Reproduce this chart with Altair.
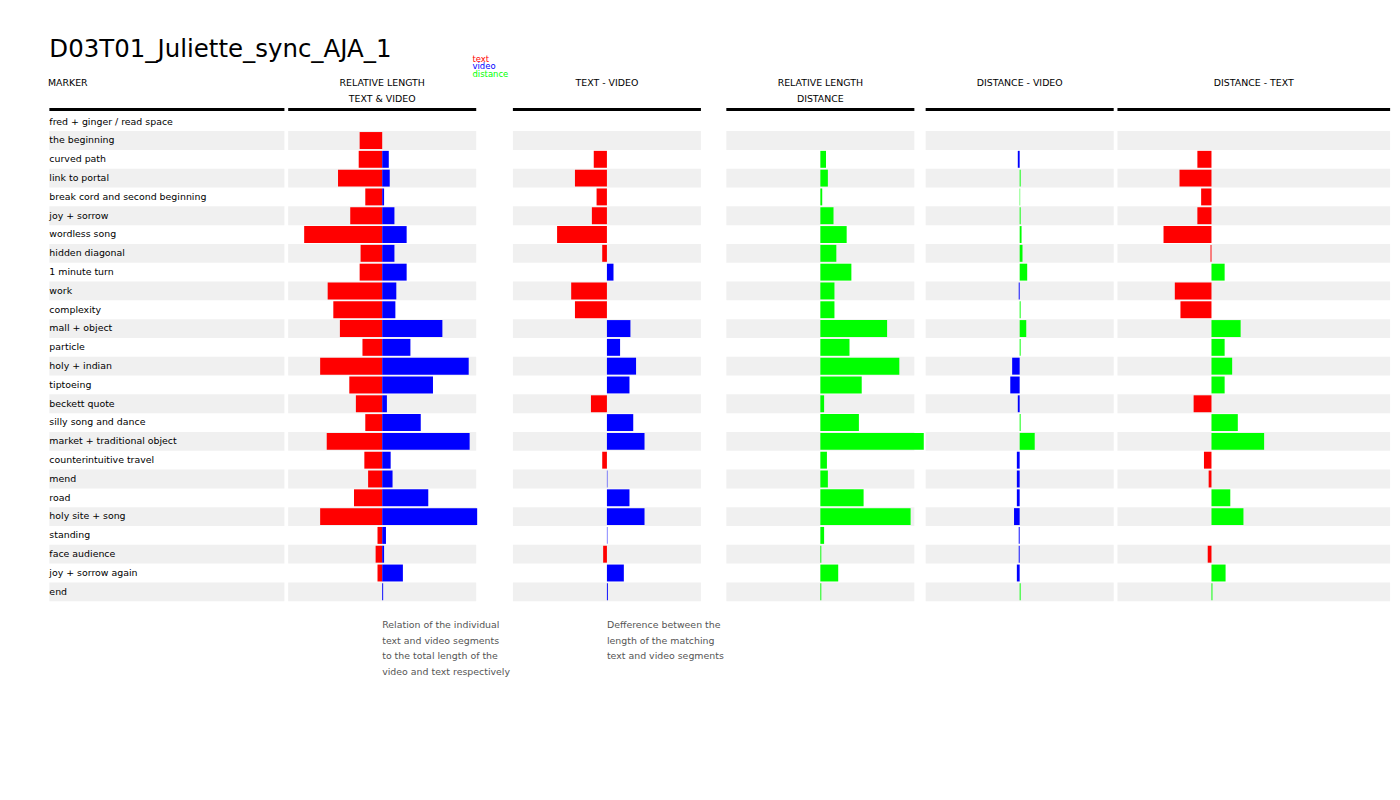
import pandas as pd
import altair as alt

FONT = "DejaVu Sans"
RED, BLUE, GREEN, STRIPE = "#ff0000", "#0000ff", "#00ff00", "#f0f0f0"

markers = [
    "fred + ginger / read space", "the beginning", "curved path", "link to portal",
    "break cord and second beginning", "joy + sorrow", "wordless song", "hidden diagonal",
    "1 minute turn", "work", "complexity", "mall + object", "particle", "holy + indian",
    "tiptoeing", "beckett quote", "silly song and dance", "market + traditional object",
    "counterintuitive travel", "mend", "road", "holy site + song", "standing",
    "face audience", "joy + sorrow again", "end",
]
rel_text = [0, 24, 25, 47, 18, 34, 83, 23, 24, 58, 52, 45, 21, 66, 35, 28, 18, 59, 19, 15, 30, 66, 5, 7, 5, 0]
rel_video = [0, 0, 7, 8, 2, 13, 26, 13, 26, 15, 14, 64, 30, 92, 54, 5, 41, 93, 9, 11, 49, 101, 4, 2, 22, 1]
text_video = [0, 0, -14, -34, -11, -16, -53, -5, 7, -38, -34, 25, 14, 31, 24, -17, 28, 40, -5, 0.5, 24, 40, 0.5, -4, 18, 1]
rel_distance = [0, 0, 6, 8, 2, 14, 28, 17, 33, 15, 15, 71, 31, 84, 44, 4, 41, 110, 7, 8, 46, 96, 4, 1, 19, 1]
dist_video = [0, 0, -2, 1, 0.5, 1, 2, 3, 8, -1, 1, 7, 1, -8, -10, -2, 1, 16, -3, -3, -3, -6, -1, -1, -3, 1]
dist_text = [0, 0, -15, -34, -11, -15, -51, -1, 14, -39, -33, 31, 14, 22, 14, -19, 28, 56, -8, -3, 20, 34, 0, -4, 15, 1]

ROW_H = 20
H = ROW_H * len(markers)


def stripes(width):
    df = pd.DataFrame({"marker": markers[1::2]})
    return alt.Chart(df).mark_rect(color=STRIPE).encode(
        y=alt.Y("marker:N", sort=markers, axis=None,
                scale=alt.Scale(domain=markers, paddingInner=0, paddingOuter=0)),
        x=alt.value(0), x2=alt.value(width),
    )


def top_rule(width):
    return alt.Chart(pd.DataFrame({"a": [0]})).mark_rule(color="black", strokeWidth=3).encode(
        x=alt.value(0), x2=alt.value(width), y=alt.value(-3)
    )


def bars(rows, domain):
    df = pd.DataFrame(rows, columns=["marker", "v", "c"])
    df = df[df["v"] != 0]
    return alt.Chart(df).mark_bar(size=18).encode(
        y=alt.Y("marker:N", sort=markers, axis=None,
                scale=alt.Scale(domain=markers, paddingInner=0, paddingOuter=0)),
        x=alt.X("v:Q", axis=None, scale=alt.Scale(domain=domain)),
        x2=alt.datum(0),
        color=alt.Color("c:N", scale=None),
    )


def panel(title, rows, width=200, domain=(-100, 100), note=None):
    layers = [stripes(width), top_rule(width), bars(rows, list(domain))]
    if note:
        layers.append(
            alt.Chart(pd.DataFrame({"t": [note]})).mark_text(
                align="left", baseline="top", font=FONT, fontSize=10, color="#555555",
                lineHeight=17, lineBreak="\n",
            ).encode(x=alt.value(width / 2), y=alt.value(H + 20), text="t:N")
        )
    return alt.layer(*layers).properties(
        width=width, height=H,
        title=alt.Title(title, font=FONT, fontSize=10, fontWeight="normal",
                        anchor="middle", lineHeight=17, offset=4),
    )


def sign_rows(vals, neg, pos):
    return [(m, v, neg if v < 0 else pos) for m, v in zip(markers, vals)]


label_w = 250
label_panel = alt.layer(
    stripes(label_w),
    top_rule(label_w),
    alt.Chart(pd.DataFrame({"marker": markers})).mark_text(
        align="left", baseline="middle", font=FONT, fontSize=10, color="black"
    ).encode(
        y=alt.Y("marker:N", sort=markers, axis=None,
                scale=alt.Scale(domain=markers, paddingInner=0, paddingOuter=0)),
        x=alt.value(0), text="marker:N",
    ),
).properties(
    width=label_w, height=H,
    title=alt.Title(["MARKER", " "], font=FONT, fontSize=10, fontWeight="normal",
                    anchor="start", lineHeight=17, offset=4),
)

rel_rows = [(m, -t, RED) for m, t in zip(markers, rel_text)] + \
           [(m, v, BLUE) for m, v in zip(markers, rel_video)]

p1 = panel(["RELATIVE LENGTH", "TEXT & VIDEO"], rel_rows,
           note="Relation of the individual\ntext and video segments\nto the total length of the\nvideo and text respectively")
p2 = panel(["TEXT - VIDEO", " "], sign_rows(text_video, RED, BLUE),
           note="Defference between the\nlength of the matching\ntext and video segments")
p3 = panel(["RELATIVE LENGTH", "DISTANCE"], [(m, v, GREEN) for m, v in zip(markers, rel_distance)])
p4 = panel(["DISTANCE - VIDEO", " "], sign_rows(dist_video, BLUE, GREEN))
p5 = panel(["DISTANCE - TEXT", " "], sign_rows(dist_text, RED, GREEN), width=290, domain=(-100, 190))

header_df = pd.DataFrame({"t": ["text", "video", "distance"], "c": [RED, BLUE, GREEN], "i": [0, 1, 2]})
header = alt.layer(
    alt.Chart(pd.DataFrame({"t": ["D03T01_Juliette_sync_AJA_1"]})).mark_text(
        align="left", baseline="middle", font=FONT, fontSize=26, color="black"
    ).encode(x=alt.value(0), y=alt.value(20), text="t:N"),
    alt.Chart(header_df).mark_text(
        align="left", baseline="middle", font=FONT, fontSize=9
    ).encode(
        x=alt.value(450),
        y=alt.Y("i:O", axis=None, scale=alt.Scale(range=[26, 50])),
        text="t:N", color=alt.Color("c:N", scale=None),
    ),
).properties(width=1290, height=50)

body = alt.hconcat(label_panel, p1, p2, p3, p4, p5, spacing=0)

chart = alt.vconcat(header, body, spacing=0).properties(
    padding={"left": 42, "top": 2, "right": 0, "bottom": 0}
).configure(background="white").configure_view(stroke=None, strokeWidth=0)

chart.save("out.html", embed_options={"renderer": "svg", "actions": False})
